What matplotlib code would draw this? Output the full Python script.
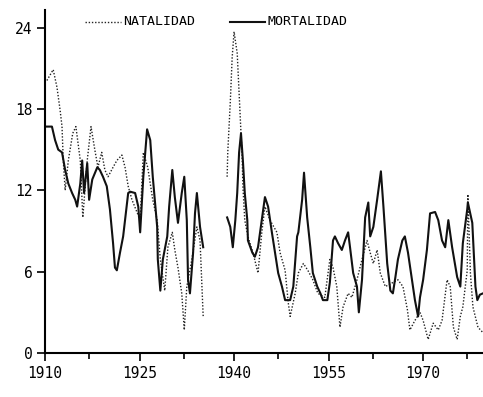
import numpy as np
import matplotlib
matplotlib.use("Agg")
import matplotlib.pyplot as plt
from matplotlib.lines import Line2D

# datos (NaN = hueco 1935-1938)
anios_mort = [1910.0, 1911.1, 1911.6, 1912.1, 1912.7, 1913.2, 1913.7, 1914.3, 1914.8, 1915.1,
              1915.6, 1915.9, 1916.2, 1916.7, 1917.0, 1917.5, 1918.3, 1918.7, 1919.2, 1919.8,
              1920.3, 1920.8, 1921.1, 1921.4, 1921.9, 1922.4, 1922.9, 1923.2, 1923.5, 1924.3,
              1924.8, 1925.1, 1925.6, 1926.2, 1926.7, 1927.1, 1927.8, 1927.9, 1928.3, 1928.7,
              1929.4, 1929.7, 1930.2, 1930.6, 1931.1, 1931.7, 1932.1, 1932.5, 1932.7, 1933.0,
              1933.5, 1933.8, 1934.1, 1934.6, 1935.1,
              1937.0,
              1938.9, 1939.4, 1939.8, 1940.2, 1940.5, 1940.8, 1941.1, 1941.4, 1941.7, 1942.1,
              1942.2, 1942.9, 1943.3, 1943.8, 1944.4, 1944.9, 1945.4, 1946.0, 1946.5, 1947.0,
              1947.6, 1948.1, 1948.9, 1949.4, 1950.0, 1950.2, 1950.8, 1951.1, 1951.6, 1952.1,
              1952.5, 1953.2, 1953.7, 1954.1, 1954.8, 1955.2, 1955.7, 1956.0, 1956.5, 1957.1,
              1957.6, 1958.1, 1958.4, 1958.9, 1959.5, 1959.8, 1960.3, 1960.8, 1961.3, 1961.6,
              1962.1, 1962.7, 1963.3, 1963.7, 1964.3, 1964.8, 1965.2, 1965.6, 1966.0, 1966.7,
              1967.1, 1967.6, 1968.3, 1968.7, 1969.2, 1969.5, 1970.0, 1970.6, 1971.1, 1971.9,
              1972.4, 1973.0, 1973.5, 1974.0, 1974.6, 1975.4, 1975.9, 1976.3, 1977.0, 1977.1,
              1977.8, 1978.3, 1978.6, 1979.0, 1979.5]
mortalidad = [16.7, 16.7, 15.7, 15.0, 14.8, 13.5, 12.5, 11.8, 11.3, 10.8,
              12.5, 14.2, 11.8, 14.0, 11.3, 12.8, 13.7, 13.5, 13.0, 12.3,
              10.6, 8.1, 6.3, 6.1, 7.4, 8.6, 10.6, 11.8, 11.9, 11.8,
              10.8, 8.9, 13.0, 16.5, 15.7, 13.0, 9.3, 6.9, 4.6, 6.9,
              8.6, 10.8, 13.5, 11.5, 9.6, 11.8, 13.0, 9.8, 5.4, 4.4,
              7.4, 10.3, 11.8, 9.3, 7.8,
              np.nan,
              10.0, 9.3, 7.8, 9.8, 11.8, 14.8, 16.2, 14.2, 11.8, 9.8,
              8.3, 7.4, 7.1, 7.8, 9.8, 11.5, 10.8, 8.9, 7.4, 5.9,
              4.9, 3.9, 3.9, 4.9, 8.6, 8.9, 11.3, 13.3, 10.0, 7.8,
              5.9, 4.9, 4.4, 3.9, 3.9, 5.2, 8.3, 8.6, 8.1, 7.6,
              8.3, 8.9, 7.8, 5.9, 4.9, 3.0, 5.4, 10.0, 11.1, 8.6,
              9.3, 11.3, 13.4, 10.8, 6.6, 4.6, 4.4, 5.6, 6.9, 8.3,
              8.6, 7.4, 5.2, 3.9, 2.7, 4.1, 5.4, 7.6, 10.3, 10.4,
              9.8, 8.3, 7.8, 9.8, 7.8, 5.6, 4.9, 8.1, 10.6, 11.1,
              9.6, 4.9, 3.9, 4.3, 4.4]

anios_nat = [1910.3, 1911.3, 1911.9, 1912.4, 1912.7, 1912.9, 1913.2, 1913.7, 1914.4, 1914.9,
             1915.6, 1916.0, 1916.7, 1917.3, 1917.9, 1918.4, 1919.0, 1919.5, 1920.0, 1920.8,
             1921.4, 1922.2, 1922.7, 1923.2, 1923.8, 1925.1, 1925.6, 1926.3, 1927.1, 1927.8,
             1928.3, 1929.0, 1929.5, 1930.2, 1930.6, 1931.1, 1931.7, 1932.1, 1932.5, 1933.3,
             1934.1, 1934.6, 1935.1,
             1937.0,
             1938.9, 1939.0, 1939.4, 1939.7, 1940.0, 1940.5, 1941.0, 1941.3, 1941.4, 1941.7,
             1942.2, 1943.0, 1943.8, 1944.4, 1944.9, 1945.7, 1946.8, 1947.3, 1948.1, 1948.6,
             1948.9, 1949.7, 1950.2, 1951.0, 1951.7, 1952.5, 1953.3, 1954.4, 1955.2, 1955.7,
             1956.3, 1956.8, 1957.3, 1958.1, 1958.7, 1959.5, 1960.3, 1961.1, 1961.6, 1962.1,
             1962.7, 1963.2, 1964.0, 1966.0, 1966.8, 1967.5, 1967.9, 1968.7, 1969.5, 1970.0,
             1970.8, 1971.6, 1972.4, 1973.0, 1973.8, 1974.3, 1974.8, 1975.4, 1975.9, 1976.3,
             1977.0, 1977.1, 1977.5, 1977.9, 1978.7, 1979.5]
natalidad = [20.1, 20.9, 19.6, 17.9, 16.7, 14.2, 12.0, 14.2, 16.2, 16.7,
             14.2, 10.0, 14.2, 16.7, 15.0, 13.7, 14.8, 13.5, 13.0, 13.7,
             14.2, 14.6, 13.7, 12.3, 11.3, 9.8, 14.8, 13.7, 11.3, 9.8,
             6.9, 4.6, 7.8, 8.9, 7.6, 6.3, 4.4, 1.7, 4.9, 6.9,
             9.3, 8.3, 2.7,
             np.nan,
             13.0, 14.8, 18.5, 21.8, 23.7, 22.1, 17.2, 14.2, 12.3, 9.8,
             8.6, 7.4, 5.9, 8.9, 10.8, 9.8, 8.9, 7.4, 6.1, 3.7,
             2.7, 4.4, 5.9, 6.6, 6.1, 5.4, 4.4, 4.1, 6.9, 6.3,
             4.9, 1.9, 3.4, 4.4, 4.1, 5.4, 6.9, 8.3, 7.4, 6.6,
             7.6, 5.9, 4.9, 5.4, 4.9, 3.2, 1.7, 2.4, 3.0, 2.4,
             1.0, 2.2, 1.7, 2.4, 5.4, 4.9, 1.9, 1.0, 2.7, 3.4,
             6.1, 11.7, 5.9, 3.4, 1.9, 1.5]

ticks_x = [1910, 1925, 1940, 1955, 1970]
ticks_x_menores = [1917, 1932, 1947, 1962, 1977]
ticks_y = [0, 6, 12, 18, 24]

fig = plt.figure(figsize=(4.83, 3.97), dpi=100)
ax = fig.add_axes([45 / 483, 44 / 397, 438 / 483, 343 / 397])

ax.plot(anios_nat, natalidad, color='#222222', lw=1.0, linestyle=(0, (1, 1.3)))
ax.plot(anios_mort, mortalidad, color='#111111', lw=1.5)

ax.set_xlim(1910, 1979.5)
ax.set_ylim(0, 25.3)
ax.spines['top'].set_visible(False)
ax.spines['right'].set_visible(False)
ax.spines['left'].set_linewidth(1.5)
ax.spines['bottom'].set_linewidth(1.5)

ax.set_xticks(ticks_x)
ax.set_xticks(ticks_x_menores, minor=True)
ax.set_yticks(ticks_y)
fuente = {'family': 'DejaVu Sans Mono', 'size': 10.5}
ax.set_xticklabels([str(t) for t in ticks_x], fontdict=fuente)
ax.set_yticklabels([str(t) for t in ticks_y], fontdict=fuente)
ax.tick_params(axis='both', which='major', length=6, width=1.3, color='#111111', pad=3)
ax.tick_params(axis='x', which='minor', length=4, width=1.2)

# leyenda dibujada a mano, como el plotter
fig.add_artist(Line2D([85 / 483, 121 / 483], [0.945, 0.945], color='#222222',
                      lw=1.0, linestyle=(0, (1, 1.3))))
fig.text(123 / 483, 0.945, 'NATALIDAD', fontsize=9.5, va='center', ha='left',
         family='DejaVu Sans Mono')
fig.add_artist(Line2D([230 / 483, 265 / 483], [0.945, 0.945], color='#111111', lw=1.5))
fig.text(268 / 483, 0.945, 'MORTALIDAD', fontsize=9.5, va='center', ha='left',
         family='DejaVu Sans Mono')

fig.savefig('out.png', dpi=100)
